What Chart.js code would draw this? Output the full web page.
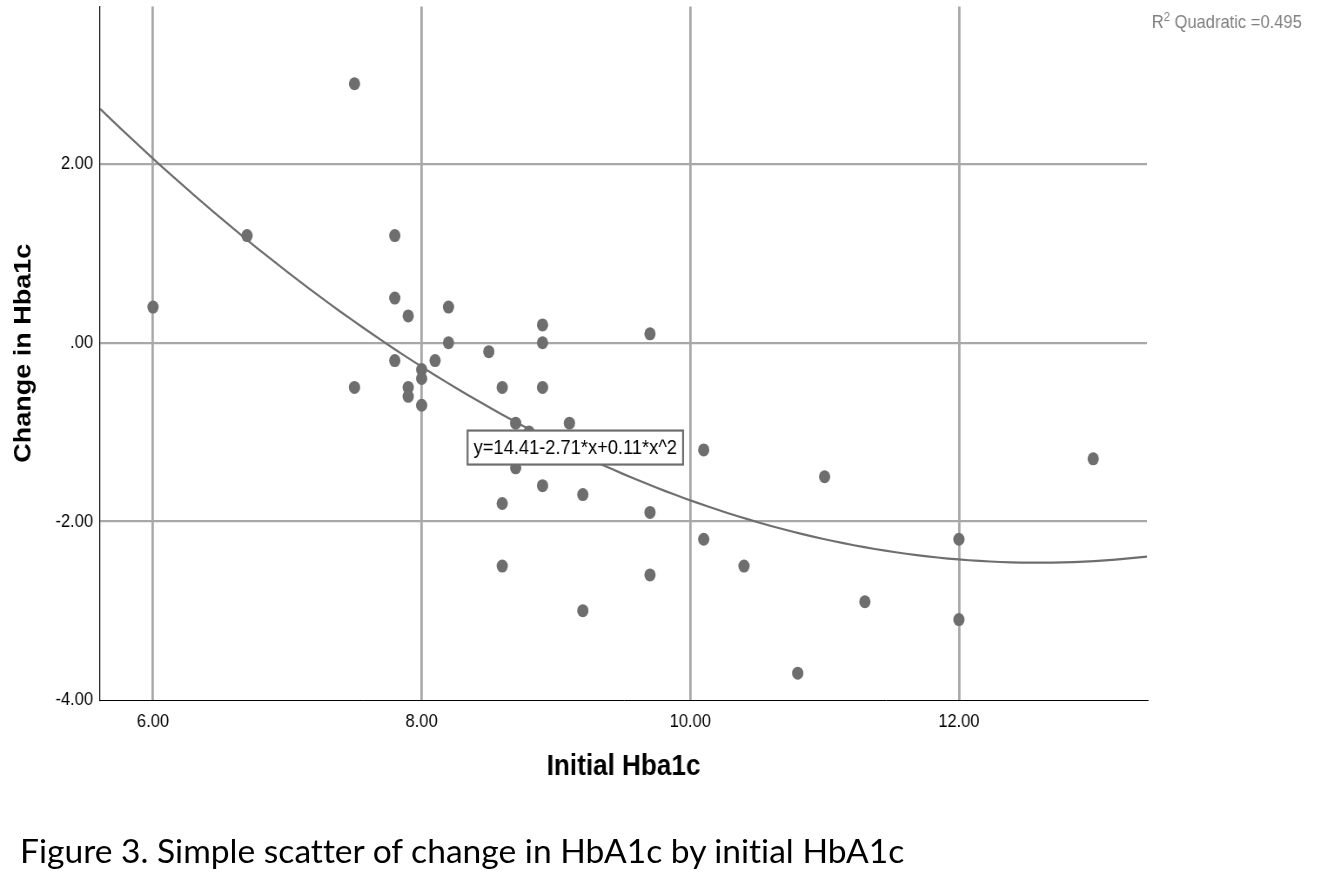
<!DOCTYPE html>
<html>
<head>
<meta charset="utf-8">
<script src="https://cdn.jsdelivr.net/npm/chart.js@4.4.1/dist/chart.umd.min.js"></script>
<style>
  html, body { margin: 0; padding: 0; background: #fff; overflow: hidden; }
  #wrap { position: relative; width: 1341px; height: 877px; }
  #chart { position: absolute; left: 0; top: 0; }
  #caption {
    position: absolute; left: 20px; top: 834px; line-height: 1;
    font-family: Lato, "Open Sans", sans-serif; font-size: 31px; color: #000;
    white-space: nowrap; font-variant-ligatures: none;
  }
</style>
</head>
<body>
<div id="wrap">
  <!-- drawn wider and shown at 1341px: the original picture is squeezed sideways -->
  <canvas id="chart" width="1541" height="877" style="width:1341px;height:877px"></canvas>
  <div id="caption">Figure 3. Simple scatter of change in HbA1c by initial HbA1c</div>
</div>
<script>
// values
const initialHba1c = [6.0, 6.7, 7.5, 7.5, 7.8, 7.8, 7.8, 7.9, 7.9, 7.9, 8.0, 8.0, 8.0, 8.1, 8.2, 8.2,
  8.5, 8.6, 8.7, 8.8, 8.7, 8.6, 8.6, 8.9, 8.9, 8.9, 8.9, 9.1, 9.2, 9.2, 9.7, 9.7, 9.7,
  10.1, 10.1, 10.4, 10.8, 11.0, 11.3, 12.0, 12.0, 13.0];
const changeHba1c = [0.4, 1.2, 2.9, -0.5, 1.2, 0.5, -0.2, 0.3, -0.5, -0.6, -0.3, -0.4, -0.7, -0.2, 0.4, 0.0,
  -0.1, -0.5, -0.9, -1.0, -1.4, -1.8, -2.5, 0.2, 0.0, -0.5, -1.6, -0.9, -1.7, -3.0, 0.1, -1.9, -2.6,
  -1.2, -2.2, -2.5, -3.7, -1.5, -2.9, -2.2, -3.1, -1.3];
const xTicks = [6, 8, 10, 12];
const yTicks = [-4, -2, 0, 2];
const fitLabel = 'y=14.41-2.71*x+0.11*x^2';
const r2Label = ' Quadratic =0.495';

const X_MIN = 5.606, X_MAX = 13.40, Y_MIN = -4, Y_MAX = 3.765;

// quadratic least squares fit of the points
function quadFit(xs, ys) {
  const s = [0, 0, 0, 0, 0], t = [0, 0, 0];
  for (let i = 0; i < xs.length; i++) {
    let p = 1;
    for (let k = 0; k < 5; k++) { s[k] += p; if (k < 3) t[k] += p * ys[i]; p *= xs[i]; }
  }
  const m = [[s[0], s[1], s[2], t[0]], [s[1], s[2], s[3], t[1]], [s[2], s[3], s[4], t[2]]];
  for (let c = 0; c < 3; c++) {
    for (let r = c + 1; r < 3; r++) {
      const f = m[r][c] / m[c][c];
      for (let k = c; k < 4; k++) m[r][k] -= f * m[c][k];
    }
  }
  const b = [0, 0, 0];
  for (let r = 2; r >= 0; r--) {
    let v = m[r][3];
    for (let k = r + 1; k < 3; k++) v -= m[r][k] * b[k];
    b[r] = v / m[r][r];
  }
  return b;
}
const coef = quadFit(initialHba1c, changeHba1c);
const fitPoints = [];
for (let i = 0; i <= 100; i++) {
  const x = X_MIN + (X_MAX - X_MIN) * i / 100;
  fitPoints.push({ x: x, y: coef[0] + coef[1] * x + coef[2] * x * x });
}

const FONT = '"Liberation Sans", Arial, sans-serif';
const GREY = '#6e6e6e';
const GRID = '#a8a8a8';

const extras = {
  id: 'extras',
  afterDatasetsDraw(chart) {
    const ctx = chart.ctx;
    const xs = chart.scales.x, ys = chart.scales.y;
    ctx.save();
    // equation box
    ctx.font = '21px ' + FONT;
    const w = ctx.measureText(fitLabel).width + 14;
    const left = xs.getPixelForValue(8.342), top = ys.getPixelForValue(-0.983);
    ctx.fillStyle = '#fff';
    ctx.fillRect(left, top, w, 34);
    ctx.strokeStyle = GREY;
    ctx.lineWidth = 2.2;
    ctx.strokeRect(left, top, w, 34);
    ctx.fillStyle = '#000';
    ctx.textBaseline = 'middle';
    ctx.fillText(fitLabel, left + 7, top + 18);
    // R squared, right edge at 1496 in canvas units
    ctx.fillStyle = '#808080';
    ctx.textBaseline = 'alphabetic';
    ctx.font = '19px ' + FONT;
    const wR = ctx.measureText('R').width, wT = ctx.measureText(r2Label).width;
    ctx.font = '13px ' + FONT;
    const w2 = ctx.measureText('2').width;
    const x = 1496 - (wR + w2 + wT);
    ctx.font = '19px ' + FONT;
    ctx.fillText('R', x, 28);
    ctx.font = '13px ' + FONT;
    ctx.fillText('2', x + wR, 21);
    ctx.font = '19px ' + FONT;
    ctx.fillText(r2Label, x + wR + w2, 28);
    ctx.restore();
  }
};

const fmt = v => v === 0 ? '.00' : Number(v).toFixed(2);

new Chart(document.getElementById('chart'), {
  type: 'scatter',
  data: {
    datasets: [
      {
        label: 'fit', type: 'line', data: fitPoints, order: 0,
        borderColor: GREY, borderWidth: 2.2, pointRadius: 0, fill: false, tension: 0
      },
      {
        label: 'points', data: initialHba1c.map((v, i) => ({ x: v, y: changeHba1c[i] })), order: 1,
        backgroundColor: GREY, borderColor: GREY, borderWidth: 0, pointRadius: 6.5, pointHoverRadius: 6.5
      }
    ]
  },
  options: {
    responsive: false, animation: false, devicePixelRatio: 1,
    layout: { padding: { left: 0, top: 5, right: 223, bottom: 92 } },
    plugins: { legend: { display: false }, tooltip: { enabled: false } },
    scales: {
      x: {
        type: 'linear', min: X_MIN, max: X_MAX,
        afterBuildTicks: s => { s.ticks = xTicks.map(v => ({ value: v })); },
        afterFit: s => { s.height = 85; s.paddingLeft = 0; s.paddingRight = 0; },
        ticks: { padding: 10, color: '#000', font: { family: FONT, size: 19 }, callback: fmt },
        grid: { color: GRID, lineWidth: 2.8, drawTicks: false },
        border: { color: '#000', width: 1 },
        title: { display: true, text: 'Initial Hba1c', color: '#000',
          font: { family: FONT, size: 30, weight: 'bold' }, padding: { top: 0, bottom: 0 } }
      },
      y: {
        type: 'linear', min: Y_MIN, max: Y_MAX,
        afterBuildTicks: s => { s.ticks = yTicks.map(v => ({ value: v })); },
        afterFit: s => { s.width = 115; s.paddingTop = 0; s.paddingBottom = 0; },
        ticks: { padding: 8, color: '#000', font: { family: FONT, size: 19 }, callback: fmt },
        grid: { color: c => (c.tick && c.tick.value === Y_MIN) ? 'rgba(0,0,0,0)' : GRID,
          lineWidth: 2.2, drawTicks: false },
        border: { color: '#000', width: 1.2 },
        title: { display: true, text: 'Change in Hba1c', color: '#000',
          font: { family: FONT, size: 27, weight: 'bold' },
          padding: { top: 11, bottom: 0 } }
      }
    }
  },
  plugins: [extras]
});

// caption: fit its width to the original (about 885px)
const cap = document.getElementById('caption');
const natural = cap.getBoundingClientRect().width;
cap.style.fontSize = (31 * 885 / natural).toFixed(2) + 'px';
</script>
</body>
</html>
